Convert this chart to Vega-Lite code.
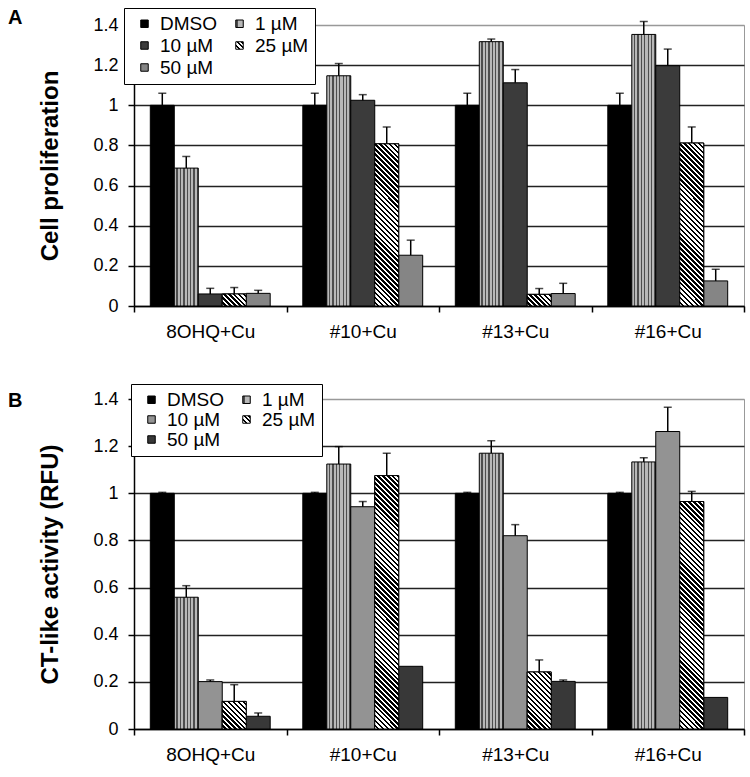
{
  "$schema": "https://vega.github.io/schema/vega-lite/v6.json",
  "autosize": {"type": "pad"},
  "padding": {"left": 7, "top": 7, "right": 5, "bottom": 5},
  "background": "white",
  "params": [
    {"name": "vgrad", "value": {"gradient": "linear", "x1": 0, "y1": 0, "x2": 1, "y2": 0, "stops": [
      {"offset": 0, "color": "#b8b8b8"}, {"offset": 0.0857, "color": "#b8b8b8"}, {"offset": 0.0857, "color": "#4d4d4d"}, {"offset": 0.1429, "color": "#4d4d4d"},
      {"offset": 0.1429, "color": "#b8b8b8"}, {"offset": 0.2286, "color": "#b8b8b8"}, {"offset": 0.2286, "color": "#4d4d4d"}, {"offset": 0.2857, "color": "#4d4d4d"},
      {"offset": 0.2857, "color": "#b8b8b8"}, {"offset": 0.3714, "color": "#b8b8b8"}, {"offset": 0.3714, "color": "#4d4d4d"}, {"offset": 0.4286, "color": "#4d4d4d"},
      {"offset": 0.4286, "color": "#b8b8b8"}, {"offset": 0.5143, "color": "#b8b8b8"}, {"offset": 0.5143, "color": "#4d4d4d"}, {"offset": 0.5714, "color": "#4d4d4d"},
      {"offset": 0.5714, "color": "#b8b8b8"}, {"offset": 0.6571, "color": "#b8b8b8"}, {"offset": 0.6571, "color": "#4d4d4d"}, {"offset": 0.7143, "color": "#4d4d4d"},
      {"offset": 0.7143, "color": "#b8b8b8"}, {"offset": 0.8, "color": "#b8b8b8"}, {"offset": 0.8, "color": "#4d4d4d"}, {"offset": 0.8571, "color": "#4d4d4d"},
      {"offset": 0.8571, "color": "#b8b8b8"}, {"offset": 0.9429, "color": "#b8b8b8"}, {"offset": 0.9429, "color": "#4d4d4d"}, {"offset": 1, "color": "#4d4d4d"}]}},
    {"name": "dgrad", "value": {"gradient": "linear", "x1": 0, "y1": 1, "x2": 1, "y2": 0, "stops": [
      {"offset": 0, "color": "#fff"}, {"offset": 0.1667, "color": "#fff"}, {"offset": 0.1667, "color": "#000"}, {"offset": 0.3333, "color": "#000"},
      {"offset": 0.3333, "color": "#fff"}, {"offset": 0.5, "color": "#fff"}, {"offset": 0.5, "color": "#000"}, {"offset": 0.6667, "color": "#000"},
      {"offset": 0.6667, "color": "#fff"}, {"offset": 0.8333, "color": "#fff"}, {"offset": 0.8333, "color": "#000"}, {"offset": 1, "color": "#000"}]}},
    {"name": "dstops", "value": [
      {"offset":0,"color":"#fff"},{"offset":0.0083,"color":"#fff"},{"offset":0.0083,"color":"#000"},{"offset":0.0167,"color":"#000"},
      {"offset":0.0167,"color":"#fff"},{"offset":0.025,"color":"#fff"},{"offset":0.025,"color":"#000"},{"offset":0.0333,"color":"#000"},
      {"offset":0.0333,"color":"#fff"},{"offset":0.0417,"color":"#fff"},{"offset":0.0417,"color":"#000"},{"offset":0.05,"color":"#000"},
      {"offset":0.05,"color":"#fff"},{"offset":0.0583,"color":"#fff"},{"offset":0.0583,"color":"#000"},{"offset":0.0667,"color":"#000"},
      {"offset":0.0667,"color":"#fff"},{"offset":0.075,"color":"#fff"},{"offset":0.075,"color":"#000"},{"offset":0.0833,"color":"#000"},
      {"offset":0.0833,"color":"#fff"},{"offset":0.0917,"color":"#fff"},{"offset":0.0917,"color":"#000"},{"offset":0.1,"color":"#000"},
      {"offset":0.1,"color":"#fff"},{"offset":0.1083,"color":"#fff"},{"offset":0.1083,"color":"#000"},{"offset":0.1167,"color":"#000"},
      {"offset":0.1167,"color":"#fff"},{"offset":0.125,"color":"#fff"},{"offset":0.125,"color":"#000"},{"offset":0.1333,"color":"#000"},
      {"offset":0.1333,"color":"#fff"},{"offset":0.1417,"color":"#fff"},{"offset":0.1417,"color":"#000"},{"offset":0.15,"color":"#000"},
      {"offset":0.15,"color":"#fff"},{"offset":0.1583,"color":"#fff"},{"offset":0.1583,"color":"#000"},{"offset":0.1667,"color":"#000"},
      {"offset":0.1667,"color":"#fff"},{"offset":0.175,"color":"#fff"},{"offset":0.175,"color":"#000"},{"offset":0.1833,"color":"#000"},
      {"offset":0.1833,"color":"#fff"},{"offset":0.1917,"color":"#fff"},{"offset":0.1917,"color":"#000"},{"offset":0.2,"color":"#000"},
      {"offset":0.2,"color":"#fff"},{"offset":0.2083,"color":"#fff"},{"offset":0.2083,"color":"#000"},{"offset":0.2167,"color":"#000"},
      {"offset":0.2167,"color":"#fff"},{"offset":0.225,"color":"#fff"},{"offset":0.225,"color":"#000"},{"offset":0.2333,"color":"#000"},
      {"offset":0.2333,"color":"#fff"},{"offset":0.2417,"color":"#fff"},{"offset":0.2417,"color":"#000"},{"offset":0.25,"color":"#000"},
      {"offset":0.25,"color":"#fff"},{"offset":0.2583,"color":"#fff"},{"offset":0.2583,"color":"#000"},{"offset":0.2667,"color":"#000"},
      {"offset":0.2667,"color":"#fff"},{"offset":0.275,"color":"#fff"},{"offset":0.275,"color":"#000"},{"offset":0.2833,"color":"#000"},
      {"offset":0.2833,"color":"#fff"},{"offset":0.2917,"color":"#fff"},{"offset":0.2917,"color":"#000"},{"offset":0.3,"color":"#000"},
      {"offset":0.3,"color":"#fff"},{"offset":0.3083,"color":"#fff"},{"offset":0.3083,"color":"#000"},{"offset":0.3167,"color":"#000"},
      {"offset":0.3167,"color":"#fff"},{"offset":0.325,"color":"#fff"},{"offset":0.325,"color":"#000"},{"offset":0.3333,"color":"#000"},
      {"offset":0.3333,"color":"#fff"},{"offset":0.3417,"color":"#fff"},{"offset":0.3417,"color":"#000"},{"offset":0.35,"color":"#000"},
      {"offset":0.35,"color":"#fff"},{"offset":0.3583,"color":"#fff"},{"offset":0.3583,"color":"#000"},{"offset":0.3667,"color":"#000"},
      {"offset":0.3667,"color":"#fff"},{"offset":0.375,"color":"#fff"},{"offset":0.375,"color":"#000"},{"offset":0.3833,"color":"#000"},
      {"offset":0.3833,"color":"#fff"},{"offset":0.3917,"color":"#fff"},{"offset":0.3917,"color":"#000"},{"offset":0.4,"color":"#000"},
      {"offset":0.4,"color":"#fff"},{"offset":0.4083,"color":"#fff"},{"offset":0.4083,"color":"#000"},{"offset":0.4167,"color":"#000"},
      {"offset":0.4167,"color":"#fff"},{"offset":0.425,"color":"#fff"},{"offset":0.425,"color":"#000"},{"offset":0.4333,"color":"#000"},
      {"offset":0.4333,"color":"#fff"},{"offset":0.4417,"color":"#fff"},{"offset":0.4417,"color":"#000"},{"offset":0.45,"color":"#000"},
      {"offset":0.45,"color":"#fff"},{"offset":0.4583,"color":"#fff"},{"offset":0.4583,"color":"#000"},{"offset":0.4667,"color":"#000"},
      {"offset":0.4667,"color":"#fff"},{"offset":0.475,"color":"#fff"},{"offset":0.475,"color":"#000"},{"offset":0.4833,"color":"#000"},
      {"offset":0.4833,"color":"#fff"},{"offset":0.4917,"color":"#fff"},{"offset":0.4917,"color":"#000"},{"offset":0.5,"color":"#000"},
      {"offset":0.5,"color":"#fff"},{"offset":0.5083,"color":"#fff"},{"offset":0.5083,"color":"#000"},{"offset":0.5167,"color":"#000"},
      {"offset":0.5167,"color":"#fff"},{"offset":0.525,"color":"#fff"},{"offset":0.525,"color":"#000"},{"offset":0.5333,"color":"#000"},
      {"offset":0.5333,"color":"#fff"},{"offset":0.5417,"color":"#fff"},{"offset":0.5417,"color":"#000"},{"offset":0.55,"color":"#000"},
      {"offset":0.55,"color":"#fff"},{"offset":0.5583,"color":"#fff"},{"offset":0.5583,"color":"#000"},{"offset":0.5667,"color":"#000"},
      {"offset":0.5667,"color":"#fff"},{"offset":0.575,"color":"#fff"},{"offset":0.575,"color":"#000"},{"offset":0.5833,"color":"#000"},
      {"offset":0.5833,"color":"#fff"},{"offset":0.5917,"color":"#fff"},{"offset":0.5917,"color":"#000"},{"offset":0.6,"color":"#000"},
      {"offset":0.6,"color":"#fff"},{"offset":0.6083,"color":"#fff"},{"offset":0.6083,"color":"#000"},{"offset":0.6167,"color":"#000"},
      {"offset":0.6167,"color":"#fff"},{"offset":0.625,"color":"#fff"},{"offset":0.625,"color":"#000"},{"offset":0.6333,"color":"#000"},
      {"offset":0.6333,"color":"#fff"},{"offset":0.6417,"color":"#fff"},{"offset":0.6417,"color":"#000"},{"offset":0.65,"color":"#000"},
      {"offset":0.65,"color":"#fff"},{"offset":0.6583,"color":"#fff"},{"offset":0.6583,"color":"#000"},{"offset":0.6667,"color":"#000"},
      {"offset":0.6667,"color":"#fff"},{"offset":0.675,"color":"#fff"},{"offset":0.675,"color":"#000"},{"offset":0.6833,"color":"#000"},
      {"offset":0.6833,"color":"#fff"},{"offset":0.6917,"color":"#fff"},{"offset":0.6917,"color":"#000"},{"offset":0.7,"color":"#000"},
      {"offset":0.7,"color":"#fff"},{"offset":0.7083,"color":"#fff"},{"offset":0.7083,"color":"#000"},{"offset":0.7167,"color":"#000"},
      {"offset":0.7167,"color":"#fff"},{"offset":0.725,"color":"#fff"},{"offset":0.725,"color":"#000"},{"offset":0.7333,"color":"#000"},
      {"offset":0.7333,"color":"#fff"},{"offset":0.7417,"color":"#fff"},{"offset":0.7417,"color":"#000"},{"offset":0.75,"color":"#000"},
      {"offset":0.75,"color":"#fff"},{"offset":0.7583,"color":"#fff"},{"offset":0.7583,"color":"#000"},{"offset":0.7667,"color":"#000"},
      {"offset":0.7667,"color":"#fff"},{"offset":0.775,"color":"#fff"},{"offset":0.775,"color":"#000"},{"offset":0.7833,"color":"#000"},
      {"offset":0.7833,"color":"#fff"},{"offset":0.7917,"color":"#fff"},{"offset":0.7917,"color":"#000"},{"offset":0.8,"color":"#000"},
      {"offset":0.8,"color":"#fff"},{"offset":0.8083,"color":"#fff"},{"offset":0.8083,"color":"#000"},{"offset":0.8167,"color":"#000"},
      {"offset":0.8167,"color":"#fff"},{"offset":0.825,"color":"#fff"},{"offset":0.825,"color":"#000"},{"offset":0.8333,"color":"#000"},
      {"offset":0.8333,"color":"#fff"},{"offset":0.8417,"color":"#fff"},{"offset":0.8417,"color":"#000"},{"offset":0.85,"color":"#000"},
      {"offset":0.85,"color":"#fff"},{"offset":0.8583,"color":"#fff"},{"offset":0.8583,"color":"#000"},{"offset":0.8667,"color":"#000"},
      {"offset":0.8667,"color":"#fff"},{"offset":0.875,"color":"#fff"},{"offset":0.875,"color":"#000"},{"offset":0.8833,"color":"#000"},
      {"offset":0.8833,"color":"#fff"},{"offset":0.8917,"color":"#fff"},{"offset":0.8917,"color":"#000"},{"offset":0.9,"color":"#000"},
      {"offset":0.9,"color":"#fff"},{"offset":0.9083,"color":"#fff"},{"offset":0.9083,"color":"#000"},{"offset":0.9167,"color":"#000"},
      {"offset":0.9167,"color":"#fff"},{"offset":0.925,"color":"#fff"},{"offset":0.925,"color":"#000"},{"offset":0.9333,"color":"#000"},
      {"offset":0.9333,"color":"#fff"},{"offset":0.9417,"color":"#fff"},{"offset":0.9417,"color":"#000"},{"offset":0.95,"color":"#000"},
      {"offset":0.95,"color":"#fff"},{"offset":0.9583,"color":"#fff"},{"offset":0.9583,"color":"#000"},{"offset":0.9667,"color":"#000"},
      {"offset":0.9667,"color":"#fff"},{"offset":0.975,"color":"#fff"},{"offset":0.975,"color":"#000"},{"offset":0.9833,"color":"#000"},
      {"offset":0.9833,"color":"#fff"},{"offset":0.9917,"color":"#fff"},{"offset":0.9917,"color":"#000"},{"offset":1,"color":"#000"}
    ]}
  ],
  "datasets": {
    "a": [
      {"group": "8OHQ+Cu", "series": "DMSO", "value": 1.0, "hi": 1.06},
      {"group": "8OHQ+Cu", "series": "1 µM", "value": 0.687, "hi": 0.745},
      {"group": "8OHQ+Cu", "series": "10 µM", "value": 0.06, "hi": 0.088},
      {"group": "8OHQ+Cu", "series": "25 µM", "value": 0.06, "hi": 0.092},
      {"group": "8OHQ+Cu", "series": "50 µM", "value": 0.063, "hi": 0.078},
      {"group": "#10+Cu", "series": "DMSO", "value": 1.0, "hi": 1.06},
      {"group": "#10+Cu", "series": "1 µM", "value": 1.147, "hi": 1.208},
      {"group": "#10+Cu", "series": "10 µM", "value": 1.025, "hi": 1.053},
      {"group": "#10+Cu", "series": "25 µM", "value": 0.808, "hi": 0.892},
      {"group": "#10+Cu", "series": "50 µM", "value": 0.253, "hi": 0.328},
      {"group": "#13+Cu", "series": "DMSO", "value": 1.0, "hi": 1.06},
      {"group": "#13+Cu", "series": "1 µM", "value": 1.317, "hi": 1.33},
      {"group": "#13+Cu", "series": "10 µM", "value": 1.112, "hi": 1.178},
      {"group": "#13+Cu", "series": "25 µM", "value": 0.058, "hi": 0.087},
      {"group": "#13+Cu", "series": "50 µM", "value": 0.062, "hi": 0.113},
      {"group": "#16+Cu", "series": "DMSO", "value": 1.0, "hi": 1.06},
      {"group": "#16+Cu", "series": "1 µM", "value": 1.353, "hi": 1.417},
      {"group": "#16+Cu", "series": "10 µM", "value": 1.197, "hi": 1.28},
      {"group": "#16+Cu", "series": "25 µM", "value": 0.812, "hi": 0.892},
      {"group": "#16+Cu", "series": "50 µM", "value": 0.125, "hi": 0.183}
    ],
    "b": [
      {"group": "8OHQ+Cu", "series": "DMSO", "value": 1.0, "hi": 1.004},
      {"group": "8OHQ+Cu", "series": "1 µM", "value": 0.559, "hi": 0.608},
      {"group": "8OHQ+Cu", "series": "10 µM", "value": 0.201, "hi": 0.208},
      {"group": "8OHQ+Cu", "series": "25 µM", "value": 0.117, "hi": 0.188},
      {"group": "8OHQ+Cu", "series": "50 µM", "value": 0.054, "hi": 0.068},
      {"group": "#10+Cu", "series": "DMSO", "value": 1.0, "hi": 1.004},
      {"group": "#10+Cu", "series": "1 µM", "value": 1.124, "hi": 1.198},
      {"group": "#10+Cu", "series": "10 µM", "value": 0.943, "hi": 0.965},
      {"group": "#10+Cu", "series": "25 µM", "value": 1.075, "hi": 1.17},
      {"group": "#10+Cu", "series": "50 µM", "value": 0.266, "hi": null},
      {"group": "#13+Cu", "series": "DMSO", "value": 1.0, "hi": 1.004},
      {"group": "#13+Cu", "series": "1 µM", "value": 1.17, "hi": 1.223},
      {"group": "#13+Cu", "series": "10 µM", "value": 0.82, "hi": 0.867},
      {"group": "#13+Cu", "series": "25 µM", "value": 0.242, "hi": 0.293},
      {"group": "#13+Cu", "series": "50 µM", "value": 0.202, "hi": 0.208},
      {"group": "#16+Cu", "series": "DMSO", "value": 1.0, "hi": 1.004},
      {"group": "#16+Cu", "series": "1 µM", "value": 1.133, "hi": 1.151},
      {"group": "#16+Cu", "series": "10 µM", "value": 1.262, "hi": 1.365},
      {"group": "#16+Cu", "series": "25 µM", "value": 0.965, "hi": 1.008},
      {"group": "#16+Cu", "series": "50 µM", "value": 0.134, "hi": null}
    ]
  },
  "config": {
    "font": "Liberation Sans",
    "view": {"stroke": "#999", "strokeWidth": 1},
    "axis": {"labelColor": "black", "titleColor": "black", "tickColor": "black", "domainColor": "black", "domainWidth": 1.5, "tickWidth": 1.5, "labelFont": "Liberation Sans", "titleFont": "Liberation Sans"},
    "legend": {"labelFont": "Liberation Sans", "labelColor": "black"}
  },
  "bounds": "flush",
  "spacing": 93,
  "resolve": {"scale": {"color": "independent", "y": "independent", "x": "independent", "xOffset": "independent"}},
  "vconcat": [
    {
      "width": 610,
      "height": 281,
      "title": {"text": "A", "anchor": "start", "frame": "group", "dx": -126, "dy": 20, "offset": 0, "fontSize": 20, "fontWeight": "bold", "color": "black"},
      "data": {"name": "a"},
      "encoding": {
        "x": {"field": "group", "type": "nominal", "scale": {"domain": ["8OHQ+Cu", "#10+Cu", "#13+Cu", "#16+Cu"], "paddingInner": 0, "paddingOuter": 0},
              "axis": {"title": null, "labelAngle": 0, "labelFontSize": 19, "labelPadding": 10, "tickBand": "extent", "tickSize": 6, "grid": false}},
        "xOffset": {"field": "series", "type": "nominal", "scale": {"domain": ["DMSO", "1 µM", "10 µM", "25 µM", "50 µM"], "paddingInner": 0, "paddingOuter": 0.68}}
      },
      "layer": [
        {
          "mark": {"type": "bar", "stroke": "black", "strokeWidth": 1},
          "encoding": {
            "y": {"field": "value", "type": "quantitative", "scale": {"domain": [0, 1.4], "nice": false},
                  "axis": {"title": "Cell proliferation", "values": [0, 0.2, 0.4, 0.6, 0.8, 1, 1.2, 1.4], "format": ".1~f", "labelFontSize": 18, "labelPadding": 10, "tickSize": 6, "titleFontSize": 24, "titleFontWeight": "bold", "titlePadding": 30, "grid": true, "gridColor": {"condition": {"test": "datum.value >= 1.39", "value": "#999"}, "value": "#222"}, "gridWidth": 1.5}},
            "color": {"field": "series", "type": "nominal",
              "scale": {"domain": ["DMSO", "1 µM", "10 µM", "25 µM", "50 µM"],
                "range": ["#000000", {"expr": "vgrad"}, "#3b3b3b", {"expr": "dgrad"}, "#858585"]},
              "legend": {"orient": "none", "legendX": -10, "legendY": -17, "direction": "horizontal", "columns": 2, "title": null, "labelFontSize": 19, "symbolType": "square", "symbolSize": 56, "symbolStrokeColor": "black", "symbolStrokeWidth": 1, "fillColor": "white", "strokeColor": "black", "padding": 6, "symbolOffset": 5, "rowPadding": 2, "columnPadding": 8, "labelOffset": 6}}
          }
        },
        {
          "transform": [{"filter": "datum.series === '25 µM'"}],
          "mark": {"type": "bar", "stroke": "black", "strokeWidth": 1,
            "fill": {"expr": "{gradient: 'linear', x1: 0, y1: 1, x2: 297/(24*(1+pow(datum.value*200.7/24,2))), y2: 1 - 297*(datum.value*200.7/24)/(24*(1+pow(datum.value*200.7/24,2))), stops: dstops}"}},
          "encoding": {"y": {"field": "value", "type": "quantitative", "scale": {"domain": [0, 1.4], "nice": false}}}
        },
        {
          "transform": [{"filter": "isValid(datum.hi)"}],
          "mark": {"type": "rule", "color": "black", "strokeWidth": 1.5},
          "encoding": {"y": {"field": "value", "type": "quantitative", "scale": {"domain": [0, 1.4], "nice": false}}, "y2": {"field": "hi"}}
        },
        {
          "transform": [{"filter": "isValid(datum.hi)"}],
          "mark": {"type": "tick", "color": "black", "thickness": 1.5, "size": 8},
          "encoding": {"y": {"field": "hi", "type": "quantitative", "scale": {"domain": [0, 1.4], "nice": false}}}
        }
      ]
    },
    {
      "width": 610,
      "height": 330,
      "title": {"text": "B", "anchor": "start", "frame": "group", "dx": -126, "dy": 27, "offset": 0, "fontSize": 20, "fontWeight": "bold", "color": "black"},
      "data": {"name": "b"},
      "encoding": {
        "x": {"field": "group", "type": "nominal", "scale": {"domain": ["8OHQ+Cu", "#10+Cu", "#13+Cu", "#16+Cu"], "paddingInner": 0, "paddingOuter": 0},
              "axis": {"title": null, "labelAngle": 0, "labelFontSize": 19, "labelPadding": 10, "tickBand": "extent", "tickSize": 6, "grid": false}},
        "xOffset": {"field": "series", "type": "nominal", "scale": {"domain": ["DMSO", "1 µM", "10 µM", "25 µM", "50 µM"], "paddingInner": 0, "paddingOuter": 0.68}}
      },
      "layer": [
        {
          "mark": {"type": "bar", "stroke": "black", "strokeWidth": 1},
          "encoding": {
            "y": {"field": "value", "type": "quantitative", "scale": {"domain": [0, 1.4], "nice": false},
                  "axis": {"title": "CT-like activity (RFU)", "values": [0, 0.2, 0.4, 0.6, 0.8, 1, 1.2, 1.4], "format": ".1~f", "labelFontSize": 18, "labelPadding": 10, "tickSize": 6, "titleFontSize": 24, "titleFontWeight": "bold", "titlePadding": 30, "grid": true, "gridColor": {"condition": {"test": "datum.value >= 1.39", "value": "#999"}, "value": "#222"}, "gridWidth": 1.5}},
            "color": {"field": "series", "type": "nominal",
              "scale": {"domain": ["DMSO", "1 µM", "10 µM", "25 µM", "50 µM"],
                "range": ["#000000", {"expr": "vgrad"}, "#939393", {"expr": "dgrad"}, "#383838"]},
              "legend": {"orient": "none", "legendX": -3, "legendY": -15, "direction": "horizontal", "columns": 2, "title": null, "labelFontSize": 19, "symbolType": "square", "symbolSize": 56, "symbolStrokeColor": "black", "symbolStrokeWidth": 1, "fillColor": "white", "strokeColor": "black", "padding": 6, "symbolOffset": 5, "rowPadding": 0, "columnPadding": 8, "labelOffset": 6}}
          }
        },
        {
          "transform": [{"filter": "datum.series === '25 µM'"}],
          "mark": {"type": "bar", "stroke": "black", "strokeWidth": 1,
            "fill": {"expr": "{gradient: 'linear', x1: 0, y1: 1, x2: 297/(24*(1+pow(datum.value*235.7/24,2))), y2: 1 - 297*(datum.value*235.7/24)/(24*(1+pow(datum.value*235.7/24,2))), stops: dstops}"}},
          "encoding": {"y": {"field": "value", "type": "quantitative", "scale": {"domain": [0, 1.4], "nice": false}}}
        },
        {
          "transform": [{"filter": "isValid(datum.hi)"}],
          "mark": {"type": "rule", "color": "black", "strokeWidth": 1.5},
          "encoding": {"y": {"field": "value", "type": "quantitative", "scale": {"domain": [0, 1.4], "nice": false}}, "y2": {"field": "hi"}}
        },
        {
          "transform": [{"filter": "isValid(datum.hi)"}],
          "mark": {"type": "tick", "color": "black", "thickness": 1.5, "size": 8},
          "encoding": {"y": {"field": "hi", "type": "quantitative", "scale": {"domain": [0, 1.4], "nice": false}}}
        }
      ]
    }
  ]
}
